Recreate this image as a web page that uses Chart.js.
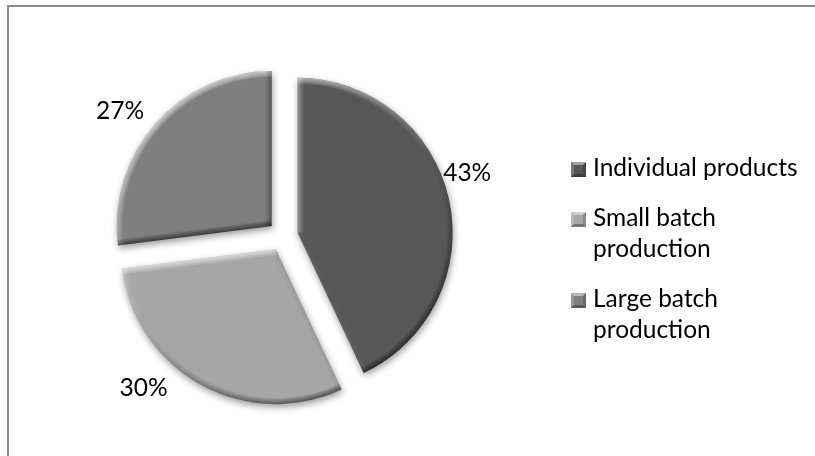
<!DOCTYPE html>
<html>
<head>
<meta charset="utf-8">
<script src="https://cdn.jsdelivr.net/npm/chart.js@4/dist/chart.umd.min.js"></script>
<style>
  html, body { margin: 0; padding: 0; background: #ffffff; }
  canvas { display: block; }
</style>
</head>
<body>
<canvas id="chart" width="815" height="456"></canvas>
<script>
// Production type shares
const categories = ['Individual products', 'Small batch production', 'Large batch production'];
const shares = [43, 30, 27];
const sliceColors = ['#575757', '#a6a6a6', '#7f7f7f'];

// Presentation settings
const FONT = '24.5px Lato, "Open Sans", sans-serif';
const EXPLODE = 15;                 // px each slice is pulled out along its mid-angle
const LIGHT = { x: -0.5, y: -0.866 }; // bevel light direction (top-left)
const labelAngleShift = [-7, 15, -4]; // degrees, label placement around each slice
const labelDistance = [25, 36, 36];   // px beyond the slice edge

function slicePath(ctx, arc) {
  ctx.beginPath();
  ctx.moveTo(arc.x, arc.y);
  ctx.arc(arc.x, arc.y, arc.outerRadius, arc.startAngle, arc.endAngle);
  ctx.closePath();
}

function drawBevel(ctx, arc) {
  const r = arc.outerRadius;
  ctx.save();
  slicePath(ctx, arc);
  ctx.clip();
  const g = ctx.createLinearGradient(arc.x + LIGHT.x * r, arc.y + LIGHT.y * r,
                                     arc.x - LIGHT.x * r, arc.y - LIGHT.y * r);
  g.addColorStop(0, 'rgba(255,255,255,0.95)');
  g.addColorStop(0.5, 'rgba(255,255,255,0)');
  g.addColorStop(0.5, 'rgba(0,0,0,0)');
  g.addColorStop(1, 'rgba(0,0,0,0.75)');
  const edges = [arc.startAngle, arc.endAngle].map((a, j) => {
    const na = j === 0 ? a - Math.PI / 2 : a + Math.PI / 2;
    const d = Math.cos(na) * LIGHT.x + Math.sin(na) * LIGHT.y;
    return { a, color: d > 0 ? `rgba(255,255,255,${0.95 * d})` : `rgba(0,0,0,${-0.75 * d})` };
  });
  ctx.globalAlpha = 0.14;
  for (let k = 1; k <= 6; k++) {
    ctx.lineWidth = k * 2;
    ctx.strokeStyle = g;
    ctx.beginPath();
    ctx.arc(arc.x, arc.y, r, arc.startAngle, arc.endAngle);
    ctx.stroke();
    edges.forEach(e => {
      ctx.strokeStyle = e.color;
      ctx.beginPath();
      ctx.moveTo(arc.x, arc.y);
      ctx.lineTo(arc.x + Math.cos(e.a) * r, arc.y + Math.sin(e.a) * r);
      ctx.stroke();
    });
  }
  ctx.restore();
}

function drawMarker(ctx, x, y, s, color) {
  ctx.save();
  ctx.fillStyle = color;
  ctx.fillRect(x, y, s, s);
  const b = 3;
  ctx.fillStyle = 'rgba(255,255,255,0.45)';
  ctx.beginPath(); ctx.moveTo(x, y); ctx.lineTo(x + s, y); ctx.lineTo(x + s - b, y + b); ctx.lineTo(x + b, y + b); ctx.closePath(); ctx.fill();
  ctx.fillStyle = 'rgba(255,255,255,0.2)';
  ctx.beginPath(); ctx.moveTo(x, y); ctx.lineTo(x + b, y + b); ctx.lineTo(x + b, y + s - b); ctx.lineTo(x, y + s); ctx.closePath(); ctx.fill();
  ctx.fillStyle = 'rgba(0,0,0,0.3)';
  ctx.beginPath(); ctx.moveTo(x, y + s); ctx.lineTo(x + b, y + s - b); ctx.lineTo(x + s - b, y + s - b); ctx.lineTo(x + s, y + s); ctx.closePath(); ctx.fill();
  ctx.fillStyle = 'rgba(0,0,0,0.18)';
  ctx.beginPath(); ctx.moveTo(x + s, y); ctx.lineTo(x + s, y + s); ctx.lineTo(x + s - b, y + s - b); ctx.lineTo(x + s - b, y + b); ctx.closePath(); ctx.fill();
  ctx.restore();
}

function wrapText(ctx, text, maxWidth) {
  const words = text.split(' ');
  const lines = [];
  let line = '';
  words.forEach(w => {
    const test = line ? line + ' ' + w : w;
    if (line && ctx.measureText(test).width > maxWidth) { lines.push(line); line = w; }
    else line = test;
  });
  if (line) lines.push(line);
  return lines;
}

const pieDecor = {
  id: 'pieDecor',
  beforeDraw(chart) {
    const ctx = chart.ctx;
    ctx.save();
    ctx.fillStyle = '#ffffff';
    ctx.fillRect(0, 0, chart.width, chart.height);
    // chart frame
    ctx.strokeStyle = '#8a8a8a';
    ctx.lineWidth = 2;
    ctx.strokeRect(8, 6, chart.width + 40, chart.height + 40);
    ctx.restore();
  },
  afterDatasetUpdate(chart, args) {
    const meta = chart.getDatasetMeta(args.index);
    meta.data.forEach(arc => {
      const mid = (arc.startAngle + arc.endAngle) / 2;
      arc.x += Math.cos(mid) * EXPLODE;
      arc.y += Math.sin(mid) * EXPLODE;
    });
  },
  beforeDatasetDraw(chart) {
    const ctx = chart.ctx;
    ctx.save();
    ctx.shadowColor = 'rgba(0,0,0,0.4)';
    ctx.shadowBlur = 7;
    ctx.shadowOffsetX = 1;
    ctx.shadowOffsetY = 3;
  },
  afterDatasetDraw(chart, args) {
    const ctx = chart.ctx;
    ctx.restore();
    chart.getDatasetMeta(args.index).data.forEach(arc => drawBevel(ctx, arc));
  },
  afterDraw(chart) {
    const ctx = chart.ctx;
    const meta = chart.getDatasetMeta(0);
    const values = chart.data.datasets[0].data;
    const total = values.reduce((a, b) => a + b, 0);
    ctx.save();
    ctx.font = FONT;
    ctx.fillStyle = '#000000';
    ctx.textAlign = 'center';
    ctx.textBaseline = 'middle';
    // percentage labels outside each slice
    meta.data.forEach((arc, i) => {
      const a = (arc.startAngle + arc.endAngle) / 2 + labelAngleShift[i] * Math.PI / 180;
      const d = arc.outerRadius + labelDistance[i];
      const pct = Math.round(values[i] / total * 100) + '%';
      ctx.fillText(pct, arc.x + Math.cos(a) * d, arc.y + Math.sin(a) * d + 1);
    });
    // legend: entries stacked with wrapped labels
    ctx.textAlign = 'left';
    ctx.textBaseline = 'alphabetic';
    const markerX = 571, textX = 593, box = 15, lineH = 31, gap = 19;
    let baseline = 176;
    chart.data.labels.forEach((label, i) => {
      drawMarker(ctx, markerX, baseline - 14, box, sliceColors[i]);
      ctx.fillStyle = '#000000';
      const lines = wrapText(ctx, label, 212);
      lines.forEach((ln, k) => ctx.fillText(ln, textX, baseline + k * lineH));
      baseline += lines.length * lineH + gap;
    });
    ctx.restore();
  }
};

new Chart(document.getElementById('chart'), {
  type: 'pie',
  data: {
    labels: categories,
    datasets: [{
      data: shares,
      backgroundColor: sliceColors,
      borderWidth: 0,
      clip: false
    }]
  },
  options: {
    responsive: false,
    animation: false,
    radius: 155,
    layout: { padding: { left: 120, right: 369, top: 66, bottom: 50 } },
    plugins: {
      legend: { display: false },
      tooltip: { enabled: false }
    },
    events: []
  },
  plugins: [pieDecor]
});
</script>
</body>
</html>
